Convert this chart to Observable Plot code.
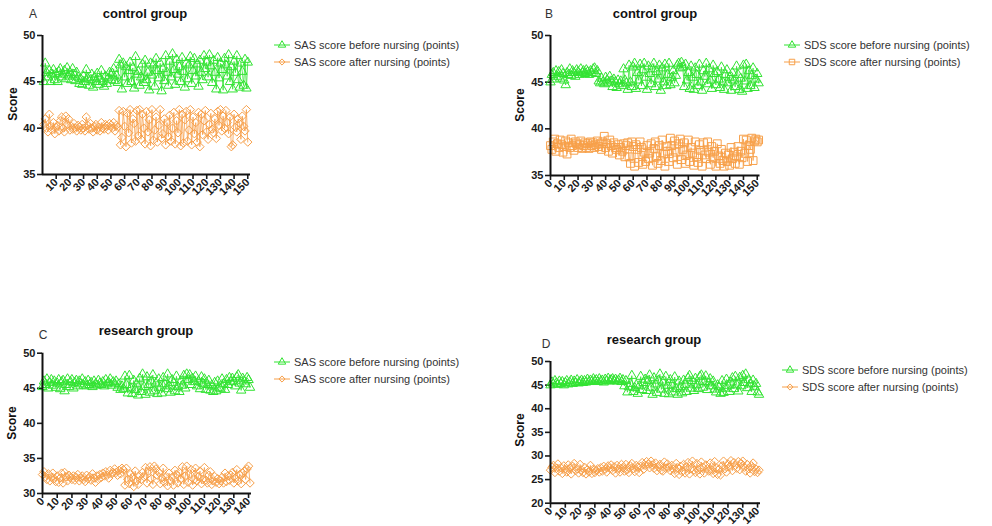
<!DOCTYPE html>
<html><head><meta charset="utf-8">
<script src="https://cdn.jsdelivr.net/npm/d3@7"></script>
<script src="https://cdn.jsdelivr.net/npm/@observablehq/plot@0.6"></script>
<style>
html,body{margin:0;padding:0;background:#fff;}
#root{position:relative;width:992px;height:526px;overflow:hidden;font-family:"Liberation Sans",Arial,sans-serif;}
.t{position:absolute;white-space:nowrap;line-height:1;}
</style></head>
<body><div id="root"></div>
<script>
// ---------------- data ----------------
const A_before = [45.0,47.0,46.0,45.5,46.2,45.0,45.8,46.3,45.2,45.9,
45.0,46.1,46.4,45.5,45.8,46.2,45.3,46.5,45.6,46.0,
45.2,46.4,45.8,45.1,46.0,45.5,44.8,45.3,44.7,45.6,
45.0,46.3,45.4,44.6,45.2,45.8,44.4,45.5,45.0,45.9,
44.7,45.3,46.2,45.0,44.5,45.6,44.8,45.4,46.0,45.2,
45.9,46.4,45.1,45.7,44.9,
47.4,46.8,44.2,47.0,45.5,46.6,44.8,46.2,47.1,45.0,46.5,44.3,47.7,45.8,46.1,
44.6,45.5,46.9,44.9,47.3,45.2,46.0,44.1,47.0,45.7,46.8,44.5,47.5,46.2,45.4,
47.0,44.0,46.4,45.1,47.8,46.0,44.6,47.2,45.5,48.0,46.3,44.7,47.4,45.8,46.6,
45.0,47.6,46.1,44.4,47.0,45.3,46.8,47.7,44.8,46.2,47.5,45.6,46.9,44.5,47.3,
46.0,45.2,47.8,46.4,47.1,45.5,47.9,46.7,44.9,47.3,46.0,44.2,47.6,45.4,47.0,
46.3,44.1,47.5,46.8,45.6,47.9,45.0,46.6,44.2,47.2,46.0,47.8,45.2,44.4,47.0,46.1,44.6,47.4,44.3,47.1];
const A_after = [40.4,41.0,40.0,39.6,41.5,40.2,39.8,40.6,39.4,40.1,
40.3,39.7,40.8,41.2,40.0,39.6,41.3,40.4,41.0,39.8,
40.2,39.9,40.5,40.0,39.7,40.3,40.1,39.8,40.4,40.0,
39.7,41.2,40.3,39.9,40.5,40.0,39.6,40.2,40.4,39.8,
40.1,39.7,40.6,40.0,39.9,40.4,40.2,39.8,40.5,40.3,
40.0,40.6,39.7,40.3,40.1,
41.9,38.2,39.0,41.8,40.2,38.0,41.6,39.5,42.0,38.4,41.0,40.5,38.6,41.9,39.2,
42.0,38.8,41.5,40.0,38.3,41.8,39.6,40.9,38.1,42.0,38.7,39.8,41.2,38.5,40.3,
42.0,38.9,39.4,41.0,38.2,40.6,39.1,41.4,38.6,40.0,41.7,38.3,40.8,39.5,42.0,
38.1,41.5,38.4,40.9,41.8,38.6,39.8,42.0,38.2,41.2,39.4,40.6,38.5,41.7,38.0,
41.5,39.3,40.8,41.9,39.6,38.8,40.4,41.6,39.9,39.5,41.0,38.9,41.8,40.3,42.0,
39.7,41.3,40.0,41.9,40.6,39.4,41.2,38.0,38.2,41.5,40.1,39.6,41.0,40.5,38.8,41.3,40.2,39.7,42.0,38.5];

const B_before = [45.0,45.8,46.0,45.3,46.2,45.6,46.1,45.4,46.3,45.9,
45.2,44.7,46.0,45.8,46.4,45.7,46.2,46.0,45.6,46.3,
46.1,45.8,46.4,46.0,46.2,45.9,46.3,46.1,45.8,46.2,
46.0,46.4,46.5,45.9,46.2,45.1,
44.9,45.4,45.0,44.8,45.5,45.2,44.9,45.6,45.1,44.5,
45.3,45.0,44.4,45.2,44.8,45.1,44.6,46.4,45.2,44.9,
44.2,46.8,45.0,44.5,46.6,47.0,44.3,46.0,45.2,46.9,44.6,46.3,
47.0,45.5,44.2,46.7,45.9,44.8,46.4,47.0,44.5,46.1,45.3,46.8,
44.1,46.5,45.0,46.9,44.6,45.8,47.0,44.7,45.5,46.2,44.9,45.7,
46.8,47.0,46.5,47.1,46.6,44.5,46.9,45.2,46.0,44.3,46.7,45.5,
44.2,46.5,45.8,44.6,46.9,45.0,44.1,46.2,45.6,47.0,44.8,46.4,
45.2,44.3,46.8,45.9,44.7,46.1,45.3,44.4,46.6,45.0,44.2,45.8,
46.3,44.9,45.5,44.1,46.0,45.2,44.5,46.7,45.8,44.2,45.4,44.0,
46.8,45.1,46.9,44.3,46.2,44.6,45.7,46.5,44.4,45.3,45.9,44.9];
const B_after = [38.2,37.8,38.6,38.9,37.6,38.4,38.0,38.8,38.3,37.5,
38.1,38.7,37.3,38.5,38.0,38.9,38.2,37.7,38.6,38.4,
38.0,38.3,38.7,37.9,38.2,38.5,38.0,38.4,37.9,38.6,
38.2,38.5,38.0,38.3,38.7,38.1,38.4,37.8,38.6,39.2,
38.0,38.4,37.6,38.8,38.2,37.4,38.5,38.0,37.8,38.3,
37.2,38.0,37.6,38.4,37.0,38.2,
38.5,37.0,36.3,38.6,38.1,36.0,38.3,37.8,36.4,38.6,38.0,36.2,
37.5,36.5,38.2,36.8,37.4,38.4,36.1,37.9,38.6,37.0,36.3,38.2,
36.6,38.8,37.3,36.0,38.1,37.6,36.5,39.0,38.2,36.9,38.7,37.5,
36.2,38.4,38.9,36.7,37.8,38.5,36.3,37.2,38.8,36.5,38.0,37.4,
36.1,38.6,37.0,36.4,38.3,37.7,36.0,38.5,37.2,36.8,38.6,37.5,
36.2,38.1,36.9,37.6,36.0,38.4,37.1,36.3,37.8,36.6,36.0,37.4,
36.5,37.2,36.1,38.0,36.8,37.5,36.3,37.0,38.1,36.2,37.6,36.9,
38.9,37.4,38.8,36.5,38.2,37.8,39.0,36.6,38.7,38.9,38.6,38.8];

const C_before = [45.2,46.0,45.5,46.3,45.0,45.8,46.2,45.4,46.0,45.1,
45.7,46.2,44.9,45.9,46.1,44.6,45.5,46.3,45.2,45.9,
46.2,45.0,45.8,46.1,45.3,46.0,45.6,46.3,45.4,45.9,
45.3,46.1,45.5,45.8,45.2,46.0,45.6,45.4,46.1,45.7,
45.5,45.9,45.3,46.2,45.6,45.8,46.3,45.4,45.9,45.7,
46.0,45.1,45.6,44.8,45.3,44.9,
46.7,45.5,44.3,46.8,45.0,44.2,46.1,44.8,45.6,44.0,46.4,44.5,
47.0,45.2,44.1,46.6,45.5,44.4,46.0,46.9,44.6,45.7,44.2,46.3,
45.1,44.3,46.5,45.6,44.9,47.0,45.3,44.4,46.2,45.8,44.6,46.7,
45.2,44.5,46.0,45.4,46.8,45.0,47.0,46.2,46.9,45.5,46.4,45.9,
46.7,45.3,46.0,44.9,46.6,45.7,46.3,44.8,45.5,46.1,44.7,45.4,
44.5,45.8,44.6,46.0,45.1,44.9,46.3,45.6,44.8,46.2,45.5,46.5,
45.9,46.4,46.0,45.3,46.6,46.9,45.7,44.7,46.4,46.0,45.6,46.5,
46.2,45.1];
const C_after = [32.7,33.1,32.4,32.0,32.8,31.8,32.3,32.9,32.1,31.7,
32.5,31.6,32.2,32.9,31.5,33.0,32.4,31.8,32.6,32.3,
32.0,32.5,31.9,32.3,32.7,31.8,32.2,32.5,32.0,31.7,
32.6,32.1,32.4,31.9,32.8,32.2,31.6,32.5,32.0,32.7,
32.3,32.9,32.5,33.1,32.6,32.2,33.3,32.8,33.0,33.5,
33.0,32.6,33.3,32.8,33.6,33.4,
31.2,33.6,32.0,31.4,32.8,32.3,31.0,33.2,31.8,31.3,32.5,32.0,
33.0,32.4,33.7,31.5,33.2,33.8,32.1,31.3,33.9,33.5,32.6,33.0,
31.4,32.2,33.6,31.6,32.4,31.1,32.9,31.8,32.3,31.2,33.3,32.7,
31.5,33.0,32.1,33.8,31.3,32.5,33.9,31.6,32.8,33.4,31.2,32.0,
33.6,31.8,32.4,33.2,31.4,32.0,33.7,31.9,31.5,32.6,33.1,31.3,
31.8,32.4,31.6,32.1,31.4,31.8,32.3,31.5,32.9,31.7,32.5,31.9,
32.6,33.0,31.5,32.2,33.4,31.8,32.7,31.4,32.9,33.2,32.0,33.5,
33.9,31.5];

const D_before = [45.0,45.6,45.2,45.9,45.4,45.1,45.8,45.3,45.7,45.0,
45.5,45.9,45.2,45.6,46.0,45.3,45.8,45.5,46.1,45.4,
45.7,46.0,45.5,45.9,45.6,46.2,45.7,46.0,45.8,46.3,
45.9,46.1,45.7,46.3,45.8,46.0,45.6,46.2,45.9,46.4,
45.8,46.1,46.3,45.9,46.2,45.8,46.0,46.4,45.7,46.1,
44.8,45.9,43.5,44.6,45.3,47.0,
43.6,44.4,45.0,43.2,44.8,46.8,44.0,45.5,46.2,43.8,45.9,47.1,
44.5,43.0,46.5,45.2,43.4,46.0,47.3,44.1,45.6,43.2,46.8,44.9,
43.1,46.1,45.0,43.5,46.7,44.2,43.0,45.8,44.6,43.3,46.0,45.1,
43.6,46.5,47.0,44.3,45.9,43.8,46.4,45.0,44.2,46.8,47.1,44.5,
45.7,46.9,44.0,45.4,46.3,44.8,45.8,44.1,43.5,45.0,44.6,43.2,
45.9,43.4,44.3,46.2,44.9,43.6,45.6,46.5,44.2,46.8,45.0,43.7,
46.6,44.8,47.0,45.5,47.3,44.4,46.1,45.2,43.6,46.0,44.7,45.3,
43.5,43.0];
const D_after = [27.0,27.6,28.0,26.5,27.4,28.3,26.8,27.5,26.3,27.9,
27.2,26.6,28.1,27.4,26.2,27.8,28.4,26.9,27.3,26.4,
28.2,27.0,26.5,27.6,26.2,27.1,26.6,28.0,26.3,27.2,
26.5,26.9,27.3,26.6,27.5,26.8,27.8,27.2,26.6,27.9,
27.4,28.1,26.9,27.7,26.4,28.0,27.3,26.6,28.2,27.5,
26.8,28.2,27.1,26.5,27.9,28.4,27.3,26.7,28.0,27.6,
26.5,27.8,28.6,27.2,28.0,28.8,28.3,27.5,28.9,28.1,
27.4,28.5,26.9,27.7,28.2,27.0,26.8,28.7,27.4,28.3,
27.6,26.9,28.0,27.2,26.3,28.4,27.5,26.1,27.8,26.7,
28.2,26.4,27.7,28.6,26.2,27.3,28.9,27.0,26.5,28.4,
27.1,26.2,28.7,27.6,26.4,28.1,27.3,26.8,28.5,27.0,
26.3,28.8,27.5,26.1,27.2,26.0,27.9,28.9,27.3,26.6,
28.3,27.7,29.0,26.9,28.6,28.0,27.4,28.8,27.1,28.4,
28.9,27.6,26.8,28.2,27.3,26.4,27.9,28.5,26.7,27.2,
26.5,27.0];

const A_xTicks = [10,20,30,40,50,60,70,80,90,100,110,120,130,140,150];
const B_xTicks = [0,10,20,30,40,50,60,70,80,90,100,110,120,130,140,150];
const CD_xTicks = [0,10,20,30,40,50,60,70,80,90,100,110,120,130,140];
const AB_yTicks = [35,40,45,50];
const C_yTicks = [30,35,40,45,50];
const D_yTicks = [20,25,30,35,40,45,50];
const titles = ["control group","control group","research group","research group"];
const letters = ["A","B","C","D"];
const legendNames = [
  ["SAS score before nursing (points)","SAS score after nursing (points)"],
  ["SDS score before nursing (points)","SDS score after nursing (points)"],
  ["SAS score before nursing (points)","SAS score after nursing (points)"],
  ["SDS score before nursing (points)","SDS score after nursing (points)"]
];
const yLabel = "Score";

// ---------------- layout ----------------
const GREEN = "#33e333", ORANGE = "#f7a04a";
const root = document.getElementById("root");

const panels = [
  {before:A_before, after:A_after, start:1, xDom:[0,152], xTicks:A_xTicks, yDom:[35,50], yTicks:AB_yTicks, sym:"diamond2", rA:3.8,
   left:0, top:0, w:262, h:215, mL:42, mR:12, mT:35, mB:41,
   title:[145,13], letter:[33,14], legend:[282,45], ylab:[13,104]},
  {before:B_before, after:B_after, start:0, xDom:[0,152], xTicks:B_xTicks, yDom:[35,50], yTicks:AB_yTicks, sym:"square", rA:4.4,
   left:500, top:0, w:272, h:215, mL:50, mR:12.5, mT:35, mB:40,
   title:[655,13], letter:[549,14], legend:[792,45], ylab:[520,105]},
  {before:C_before, after:C_after, start:0, xDom:[0,142], xTicks:CD_xTicks, yDom:[30,50], yTicks:C_yTicks, sym:"diamond2", rA:3.8,
   left:0, top:310, w:262, h:216, mL:42, mR:11, mT:42.7, mB:33,
   title:[146,330], letter:[43,335], legend:[282,362], ylab:[12,423]},
  {before:D_before, after:D_after, start:0, xDom:[0,142], xTicks:CD_xTicks, yDom:[20,50], yTicks:D_yTicks, sym:"diamond2", rA:3.8,
   left:500, top:320, w:272, h:206, mL:50, mR:12, mT:41, mB:23.3,
   title:[654,339], letter:[546,344], legend:[790,370], ylab:[520,430]}
];

function addText(txt, x, y, css){
  const d = document.createElement("div");
  d.className = "t";
  d.textContent = txt;
  d.style.left = x + "px"; d.style.top = y + "px";
  Object.assign(d.style, css);
  root.appendChild(d);
  return d;
}

function legendRow(x, y, color, sym, label){
  const s = d3.create("svg").attr("width", 18).attr("height", 12)
    .style("position","absolute").style("left", (x-9)+"px").style("top",(y-6)+"px");
  s.append("line").attr("x1",1).attr("x2",17).attr("y1",6).attr("y2",6)
    .attr("stroke",color).attr("stroke-width",1);
  s.append("path").attr("transform","translate(9,6)")
    .attr("d", d3.symbol(sym === "triangle" ? d3.symbolTriangle : sym === "square" ? d3.symbolSquare : d3.symbolDiamond2, sym==="square"?30:24)())
    .attr("fill","none").attr("stroke",color).attr("stroke-width",1);
  root.appendChild(s.node());
  addText(label, x+12, y, {fontSize:"11px", color:"#333", transform:"translateY(-50%)"});
}

panels.forEach((p, i) => {
  const bd = p.before.map((v,k) => ({x:k+p.start, y:v}));
  const ad = p.after.map((v,k) => ({x:k+p.start, y:v}));
  const svg = Plot.plot({
    width: p.w, height: p.h,
    marginLeft: p.mL, marginRight: p.mR, marginTop: p.mT, marginBottom: p.mB,
    x: {domain: p.xDom, label: null},
    y: {domain: p.yDom, label: null},
    style: {position:"absolute", left:p.left+"px", top:p.top+"px", overflow:"visible",
            fontFamily:"Liberation Sans, Arial, sans-serif", fontSize:"11px", fontWeight:"bold", color:"#1a1a1a", background:"transparent"},
    marks: [
      Plot.axisY({ticks: p.yTicks, tickSize: 5, tickPadding: 2, strokeWidth: 1.6, label: null}),
      Plot.axisX({ticks: p.xTicks, tickSize: 5, tickPadding: 1, tickRotate: -45, strokeWidth: 1.6, label: null}),
      Plot.line(bd, {x:"x", y:"y", stroke: GREEN, strokeWidth: 0.8}),
      Plot.dot(bd, {x:"x", y:"y", symbol:"triangle", r:3.5, stroke: GREEN, fill:"none", strokeWidth: 1}),
      Plot.line(ad, {x:"x", y:"y", stroke: ORANGE, strokeWidth: 0.8}),
      Plot.dot(ad, {x:"x", y:"y", symbol:p.sym, r:p.rA, stroke: ORANGE, fill:"none", strokeWidth: 1}),
      Plot.ruleX([p.xDom[0]], {stroke:"#111", strokeWidth: 2}),
      Plot.ruleY([p.yDom[0]], {stroke:"#111", strokeWidth: 2})
    ]
  });
  root.appendChild(svg);
  addText(titles[i], p.title[0], p.title[1], {fontSize:"13px", fontWeight:"bold", color:"#111", transform:"translate(-50%,-50%)"});
  addText(letters[i], p.letter[0], p.letter[1], {fontSize:"12px", color:"#333", transform:"translate(-50%,-50%)"});
  addText(yLabel, p.ylab[0], p.ylab[1], {fontSize:"12px", fontWeight:"bold", color:"#111", transform:"translate(-50%,-50%) rotate(-90deg)"});
  legendRow(p.legend[0], p.legend[1], GREEN, "triangle", legendNames[i][0]);
  legendRow(p.legend[0], p.legend[1]+17, ORANGE, p.sym, legendNames[i][1]);
});
</script>
</body></html>
